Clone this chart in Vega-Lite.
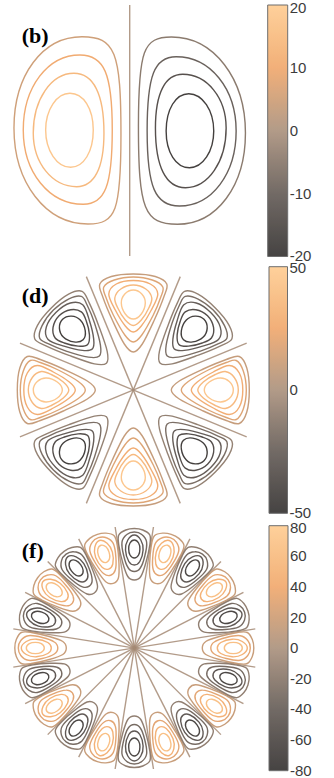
{
  "$schema": "https://vega.github.io/schema/vega-lite/v6.json",
  "width": 334,
  "height": 778,
  "autosize": {"type": "none"},
  "padding": 0,
  "background": "white",
  "config": {
    "view": {"stroke": null},
    "legend": {
      "labelFont": "Liberation Sans",
      "labelFontSize": 15,
      "labelColor": "#3c3c3c",
      "labelOffset": 3,
      "labelOverlap": false,
      "gradientStrokeColor": "#555555",
      "gradientStrokeWidth": 1,
      "padding": 0,
      "direction": "vertical"
    }
  },
  "datasets": {
    "bLines": [{"x": 0, "y": -1, "x2": 0, "y2": 1, "value": 0}],
    "bLabel": [{"label": "(b)", "x": -0.861, "y": 0.695}],
    "bLobes": [
      {"lobe": "L", "level": 1, "x": -0.476, "y": 0, "angle": 0, "value": 5},
      {"lobe": "L", "level": 2, "x": -0.476, "y": 0, "angle": 0, "value": 10},
      {"lobe": "L", "level": 3, "x": -0.476, "y": 0, "angle": 0, "value": 14},
      {"lobe": "L", "level": 4, "x": -0.476, "y": 0, "angle": 0, "value": 18},
      {"lobe": "R", "level": 1, "x": 0.476, "y": 0, "angle": 180, "value": -5},
      {"lobe": "R", "level": 2, "x": 0.476, "y": 0, "angle": 180, "value": -10},
      {"lobe": "R", "level": 3, "x": 0.476, "y": 0, "angle": 180, "value": -14},
      {"lobe": "R", "level": 4, "x": 0.476, "y": 0, "angle": 180, "value": -18}
    ],
    "dRays": [
      {"x": 0.9239, "y": 0.3827, "x2": -0.9239, "y2": -0.3827, "value": 0},
      {"x": 0.3827, "y": 0.9239, "x2": -0.3827, "y2": -0.9239, "value": 0},
      {"x": -0.3827, "y": 0.9239, "x2": 0.3827, "y2": -0.9239, "value": 0},
      {"x": -0.9239, "y": 0.3827, "x2": 0.9239, "y2": -0.3827, "value": 0}
    ],
    "dLabel": [{"label": "(d)", "x": -0.9095, "y": 0.7115}],
    "dLobes": [
      {"lobe": 0, "level": 1, "x": 0.6927, "y": 0, "angle": 0, "value": 9},
      {"lobe": 0, "level": 2, "x": 0.6927, "y": 0, "angle": 0, "value": 18},
      {"lobe": 0, "level": 3, "x": 0.6927, "y": 0, "angle": 0, "value": 27},
      {"lobe": 0, "level": 4, "x": 0.6927, "y": 0, "angle": 0, "value": 36},
      {"lobe": 0, "level": 5, "x": 0.6927, "y": 0, "angle": 0, "value": 45},
      {"lobe": 1, "level": 1, "x": 0.4898, "y": 0.4898, "angle": 315, "value": -9},
      {"lobe": 1, "level": 2, "x": 0.4898, "y": 0.4898, "angle": 315, "value": -18},
      {"lobe": 1, "level": 3, "x": 0.4898, "y": 0.4898, "angle": 315, "value": -27},
      {"lobe": 1, "level": 4, "x": 0.4898, "y": 0.4898, "angle": 315, "value": -36},
      {"lobe": 1, "level": 5, "x": 0.4898, "y": 0.4898, "angle": 315, "value": -45},
      {"lobe": 2, "level": 1, "x": 0, "y": 0.6927, "angle": 270, "value": 9},
      {"lobe": 2, "level": 2, "x": 0, "y": 0.6927, "angle": 270, "value": 18},
      {"lobe": 2, "level": 3, "x": 0, "y": 0.6927, "angle": 270, "value": 27},
      {"lobe": 2, "level": 4, "x": 0, "y": 0.6927, "angle": 270, "value": 36},
      {"lobe": 2, "level": 5, "x": 0, "y": 0.6927, "angle": 270, "value": 45},
      {"lobe": 3, "level": 1, "x": -0.4898, "y": 0.4898, "angle": 225, "value": -9},
      {"lobe": 3, "level": 2, "x": -0.4898, "y": 0.4898, "angle": 225, "value": -18},
      {"lobe": 3, "level": 3, "x": -0.4898, "y": 0.4898, "angle": 225, "value": -27},
      {"lobe": 3, "level": 4, "x": -0.4898, "y": 0.4898, "angle": 225, "value": -36},
      {"lobe": 3, "level": 5, "x": -0.4898, "y": 0.4898, "angle": 225, "value": -45},
      {"lobe": 4, "level": 1, "x": -0.6927, "y": 0, "angle": 180, "value": 9},
      {"lobe": 4, "level": 2, "x": -0.6927, "y": 0, "angle": 180, "value": 18},
      {"lobe": 4, "level": 3, "x": -0.6927, "y": 0, "angle": 180, "value": 27},
      {"lobe": 4, "level": 4, "x": -0.6927, "y": 0, "angle": 180, "value": 36},
      {"lobe": 4, "level": 5, "x": -0.6927, "y": 0, "angle": 180, "value": 45},
      {"lobe": 5, "level": 1, "x": -0.4898, "y": -0.4898, "angle": 135, "value": -9},
      {"lobe": 5, "level": 2, "x": -0.4898, "y": -0.4898, "angle": 135, "value": -18},
      {"lobe": 5, "level": 3, "x": -0.4898, "y": -0.4898, "angle": 135, "value": -27},
      {"lobe": 5, "level": 4, "x": -0.4898, "y": -0.4898, "angle": 135, "value": -36},
      {"lobe": 5, "level": 5, "x": -0.4898, "y": -0.4898, "angle": 135, "value": -45},
      {"lobe": 6, "level": 1, "x": 0, "y": -0.6927, "angle": 90, "value": 9},
      {"lobe": 6, "level": 2, "x": 0, "y": -0.6927, "angle": 90, "value": 18},
      {"lobe": 6, "level": 3, "x": 0, "y": -0.6927, "angle": 90, "value": 27},
      {"lobe": 6, "level": 4, "x": 0, "y": -0.6927, "angle": 90, "value": 36},
      {"lobe": 6, "level": 5, "x": 0, "y": -0.6927, "angle": 90, "value": 45},
      {"lobe": 7, "level": 1, "x": 0.4898, "y": -0.4898, "angle": 45, "value": -9},
      {"lobe": 7, "level": 2, "x": 0.4898, "y": -0.4898, "angle": 45, "value": -18},
      {"lobe": 7, "level": 3, "x": 0.4898, "y": -0.4898, "angle": 45, "value": -27},
      {"lobe": 7, "level": 4, "x": 0.4898, "y": -0.4898, "angle": 45, "value": -36},
      {"lobe": 7, "level": 5, "x": 0.4898, "y": -0.4898, "angle": 45, "value": -45}
    ],
    "fRays": [
      {"x": 0.9877, "y": 0.1564, "x2": -0.9877, "y2": -0.1564, "value": 0},
      {"x": 0.891, "y": 0.454, "x2": -0.891, "y2": -0.454, "value": 0},
      {"x": 0.7071, "y": 0.7071, "x2": -0.7071, "y2": -0.7071, "value": 0},
      {"x": 0.454, "y": 0.891, "x2": -0.454, "y2": -0.891, "value": 0},
      {"x": 0.1564, "y": 0.9877, "x2": -0.1564, "y2": -0.9877, "value": 0},
      {"x": -0.1564, "y": 0.9877, "x2": 0.1564, "y2": -0.9877, "value": 0},
      {"x": -0.454, "y": 0.891, "x2": 0.454, "y2": -0.891, "value": 0},
      {"x": -0.7071, "y": 0.7071, "x2": 0.7071, "y2": -0.7071, "value": 0},
      {"x": -0.891, "y": 0.454, "x2": 0.891, "y2": -0.454, "value": 0},
      {"x": -0.9877, "y": 0.1564, "x2": 0.9877, "y2": -0.1564, "value": 0}
    ],
    "fLabel": [{"label": "(f)", "x": -0.919, "y": 0.732}],
    "fLobes": [
      {"lobe": 0, "level": 1, "x": 0.7755, "y": 0, "angle": 0, "value": 16},
      {"lobe": 0, "level": 2, "x": 0.7755, "y": 0, "angle": 0, "value": 32},
      {"lobe": 0, "level": 3, "x": 0.7755, "y": 0, "angle": 0, "value": 48},
      {"lobe": 0, "level": 4, "x": 0.7755, "y": 0, "angle": 0, "value": 64},
      {"lobe": 1, "level": 1, "x": 0.7376, "y": 0.2396, "angle": 342, "value": -16},
      {"lobe": 1, "level": 2, "x": 0.7376, "y": 0.2396, "angle": 342, "value": -32},
      {"lobe": 1, "level": 3, "x": 0.7376, "y": 0.2396, "angle": 342, "value": -48},
      {"lobe": 1, "level": 4, "x": 0.7376, "y": 0.2396, "angle": 342, "value": -64},
      {"lobe": 2, "level": 1, "x": 0.6274, "y": 0.4558, "angle": 324, "value": 16},
      {"lobe": 2, "level": 2, "x": 0.6274, "y": 0.4558, "angle": 324, "value": 32},
      {"lobe": 2, "level": 3, "x": 0.6274, "y": 0.4558, "angle": 324, "value": 48},
      {"lobe": 2, "level": 4, "x": 0.6274, "y": 0.4558, "angle": 324, "value": 64},
      {"lobe": 3, "level": 1, "x": 0.4558, "y": 0.6274, "angle": 306, "value": -16},
      {"lobe": 3, "level": 2, "x": 0.4558, "y": 0.6274, "angle": 306, "value": -32},
      {"lobe": 3, "level": 3, "x": 0.4558, "y": 0.6274, "angle": 306, "value": -48},
      {"lobe": 3, "level": 4, "x": 0.4558, "y": 0.6274, "angle": 306, "value": -64},
      {"lobe": 4, "level": 1, "x": 0.2396, "y": 0.7376, "angle": 288, "value": 16},
      {"lobe": 4, "level": 2, "x": 0.2396, "y": 0.7376, "angle": 288, "value": 32},
      {"lobe": 4, "level": 3, "x": 0.2396, "y": 0.7376, "angle": 288, "value": 48},
      {"lobe": 4, "level": 4, "x": 0.2396, "y": 0.7376, "angle": 288, "value": 64},
      {"lobe": 5, "level": 1, "x": 0, "y": 0.7755, "angle": 270, "value": -16},
      {"lobe": 5, "level": 2, "x": 0, "y": 0.7755, "angle": 270, "value": -32},
      {"lobe": 5, "level": 3, "x": 0, "y": 0.7755, "angle": 270, "value": -48},
      {"lobe": 5, "level": 4, "x": 0, "y": 0.7755, "angle": 270, "value": -64},
      {"lobe": 6, "level": 1, "x": -0.2396, "y": 0.7376, "angle": 252, "value": 16},
      {"lobe": 6, "level": 2, "x": -0.2396, "y": 0.7376, "angle": 252, "value": 32},
      {"lobe": 6, "level": 3, "x": -0.2396, "y": 0.7376, "angle": 252, "value": 48},
      {"lobe": 6, "level": 4, "x": -0.2396, "y": 0.7376, "angle": 252, "value": 64},
      {"lobe": 7, "level": 1, "x": -0.4558, "y": 0.6274, "angle": 234, "value": -16},
      {"lobe": 7, "level": 2, "x": -0.4558, "y": 0.6274, "angle": 234, "value": -32},
      {"lobe": 7, "level": 3, "x": -0.4558, "y": 0.6274, "angle": 234, "value": -48},
      {"lobe": 7, "level": 4, "x": -0.4558, "y": 0.6274, "angle": 234, "value": -64},
      {"lobe": 8, "level": 1, "x": -0.6274, "y": 0.4558, "angle": 216, "value": 16},
      {"lobe": 8, "level": 2, "x": -0.6274, "y": 0.4558, "angle": 216, "value": 32},
      {"lobe": 8, "level": 3, "x": -0.6274, "y": 0.4558, "angle": 216, "value": 48},
      {"lobe": 8, "level": 4, "x": -0.6274, "y": 0.4558, "angle": 216, "value": 64},
      {"lobe": 9, "level": 1, "x": -0.7376, "y": 0.2396, "angle": 198, "value": -16},
      {"lobe": 9, "level": 2, "x": -0.7376, "y": 0.2396, "angle": 198, "value": -32},
      {"lobe": 9, "level": 3, "x": -0.7376, "y": 0.2396, "angle": 198, "value": -48},
      {"lobe": 9, "level": 4, "x": -0.7376, "y": 0.2396, "angle": 198, "value": -64},
      {"lobe": 10, "level": 1, "x": -0.7755, "y": 0, "angle": 180, "value": 16},
      {"lobe": 10, "level": 2, "x": -0.7755, "y": 0, "angle": 180, "value": 32},
      {"lobe": 10, "level": 3, "x": -0.7755, "y": 0, "angle": 180, "value": 48},
      {"lobe": 10, "level": 4, "x": -0.7755, "y": 0, "angle": 180, "value": 64},
      {"lobe": 11, "level": 1, "x": -0.7376, "y": -0.2396, "angle": 162, "value": -16},
      {"lobe": 11, "level": 2, "x": -0.7376, "y": -0.2396, "angle": 162, "value": -32},
      {"lobe": 11, "level": 3, "x": -0.7376, "y": -0.2396, "angle": 162, "value": -48},
      {"lobe": 11, "level": 4, "x": -0.7376, "y": -0.2396, "angle": 162, "value": -64},
      {"lobe": 12, "level": 1, "x": -0.6274, "y": -0.4558, "angle": 144, "value": 16},
      {"lobe": 12, "level": 2, "x": -0.6274, "y": -0.4558, "angle": 144, "value": 32},
      {"lobe": 12, "level": 3, "x": -0.6274, "y": -0.4558, "angle": 144, "value": 48},
      {"lobe": 12, "level": 4, "x": -0.6274, "y": -0.4558, "angle": 144, "value": 64},
      {"lobe": 13, "level": 1, "x": -0.4558, "y": -0.6274, "angle": 126, "value": -16},
      {"lobe": 13, "level": 2, "x": -0.4558, "y": -0.6274, "angle": 126, "value": -32},
      {"lobe": 13, "level": 3, "x": -0.4558, "y": -0.6274, "angle": 126, "value": -48},
      {"lobe": 13, "level": 4, "x": -0.4558, "y": -0.6274, "angle": 126, "value": -64},
      {"lobe": 14, "level": 1, "x": -0.2396, "y": -0.7376, "angle": 108, "value": 16},
      {"lobe": 14, "level": 2, "x": -0.2396, "y": -0.7376, "angle": 108, "value": 32},
      {"lobe": 14, "level": 3, "x": -0.2396, "y": -0.7376, "angle": 108, "value": 48},
      {"lobe": 14, "level": 4, "x": -0.2396, "y": -0.7376, "angle": 108, "value": 64},
      {"lobe": 15, "level": 1, "x": 0, "y": -0.7755, "angle": 90, "value": -16},
      {"lobe": 15, "level": 2, "x": 0, "y": -0.7755, "angle": 90, "value": -32},
      {"lobe": 15, "level": 3, "x": 0, "y": -0.7755, "angle": 90, "value": -48},
      {"lobe": 15, "level": 4, "x": 0, "y": -0.7755, "angle": 90, "value": -64},
      {"lobe": 16, "level": 1, "x": 0.2396, "y": -0.7376, "angle": 72, "value": 16},
      {"lobe": 16, "level": 2, "x": 0.2396, "y": -0.7376, "angle": 72, "value": 32},
      {"lobe": 16, "level": 3, "x": 0.2396, "y": -0.7376, "angle": 72, "value": 48},
      {"lobe": 16, "level": 4, "x": 0.2396, "y": -0.7376, "angle": 72, "value": 64},
      {"lobe": 17, "level": 1, "x": 0.4558, "y": -0.6274, "angle": 54, "value": -16},
      {"lobe": 17, "level": 2, "x": 0.4558, "y": -0.6274, "angle": 54, "value": -32},
      {"lobe": 17, "level": 3, "x": 0.4558, "y": -0.6274, "angle": 54, "value": -48},
      {"lobe": 17, "level": 4, "x": 0.4558, "y": -0.6274, "angle": 54, "value": -64},
      {"lobe": 18, "level": 1, "x": 0.6274, "y": -0.4558, "angle": 36, "value": 16},
      {"lobe": 18, "level": 2, "x": 0.6274, "y": -0.4558, "angle": 36, "value": 32},
      {"lobe": 18, "level": 3, "x": 0.6274, "y": -0.4558, "angle": 36, "value": 48},
      {"lobe": 18, "level": 4, "x": 0.6274, "y": -0.4558, "angle": 36, "value": 64},
      {"lobe": 19, "level": 1, "x": 0.7376, "y": -0.2396, "angle": 18, "value": -16},
      {"lobe": 19, "level": 2, "x": 0.7376, "y": -0.2396, "angle": 18, "value": -32},
      {"lobe": 19, "level": 3, "x": 0.7376, "y": -0.2396, "angle": 18, "value": -48},
      {"lobe": 19, "level": 4, "x": 0.7376, "y": -0.2396, "angle": 18, "value": -64}
    ]
  },
  "layer": [
    {
      "encoding": {
        "x": {"field": "x", "type": "quantitative", "axis": null, "scale": {"domain": [-1.03347, 1.62789], "nice": false, "zero": false}},
        "y": {"field": "y", "type": "quantitative", "axis": null, "scale": {"domain": [-5.15936, 1.03984], "nice": false, "zero": false}},
        "color": {
          "field": "value", "type": "quantitative",
          "scale": {"domain": [-20, -10, 0, 10, 20], "range": ["#262322", "#5a514b", "#a58a74", "#f0a262", "#ffc98a"]},
          "legend": {"orient": "none", "legendX": 267.7, "legendY": 5, "gradientLength": 251.5, "gradientThickness": 20, "values": [-19.99, -10, 0, 10, 19.5], "title": null, "labelExpr": "(datum.value < 0 ? '-' : '') + round(abs(datum.value) / 10) * 10"}
        }
      },
      "layer": [
        {"data": {"name": "bLines"}, "mark": {"type": "rule", "strokeWidth": 1.4, "opacity": 0.85}, "encoding": {"x2": {"field": "x2"}, "y2": {"field": "y2"}}},
        {"data": {"name": "bLobes"}, "transform": [{"filter": "datum.level == 1"}], "mark": {"type": "point", "shape": "M12 -93.8C45.2 -93.8 51 -79.1 51 4.5C51 80.2 46.1 93.5 18 93.5C-24.2 93.5 -56 52.2 -56 -2.5C-56 -55.5 -27.4 -93.8 12 -93.8Z", "size": 4, "filled": false, "strokeWidth": 1.4, "opacity": 0.9}, "encoding": {"angle": {"field": "angle", "type": "quantitative", "scale": null}}},
        {"data": {"name": "bLobes"}, "transform": [{"filter": "datum.level == 2"}], "mark": {"type": "point", "shape": "M10 -75.5C34.2 -75.5 42.3 -56.8 42.3 -0.5C42.3 55.2 35.1 73.8 13.3 73.8C-20.9 73.8 -46.7 41.9 -46.7 -0.5C-46.7 -43.3 -22.3 -75.5 10 -75.5Z", "size": 4, "filled": false, "strokeWidth": 1.4, "opacity": 0.9}, "encoding": {"angle": {"field": "angle", "type": "quantitative", "scale": null}}},
        {"data": {"name": "bLobes"}, "transform": [{"filter": "datum.level == 3"}], "mark": {"type": "point", "shape": "M4 -57.2C23.5 -57.2 34 -36.3 34 2.5C34 37.4 24.4 56.2 6.7 56.2C-17.6 56.2 -36.7 32.6 -36.7 2.5C-36.7 -30.9 -18.8 -57.2 4 -57.2Z", "size": 4, "filled": false, "strokeWidth": 1.4, "opacity": 0.9}, "encoding": {"angle": {"field": "angle", "type": "quantitative", "scale": null}}},
        {"data": {"name": "bLobes"}, "transform": [{"filter": "datum.level == 4"}], "mark": {"type": "point", "shape": "M0 -37.2C13.5 -37.2 23.3 -21.8 23.3 -0.5C23.3 21.1 13.8 36.8 0.7 36.8C-13.1 36.8 -24.3 20 -24.3 -0.5C-24.3 -20.7 -13.4 -37.2 0 -37.2Z", "size": 4, "filled": false, "strokeWidth": 1.4, "opacity": 0.9}, "encoding": {"angle": {"field": "angle", "type": "quantitative", "scale": null}}},
        {"data": {"name": "bLabel"}, "mark": {"type": "text", "font": "Liberation Serif", "fontWeight": "bold", "fontSize": 22, "align": "left", "baseline": "alphabetic"}, "encoding": {"text": {"field": "label"}, "color": {"value": "black"}}}
      ]
    },
    {
      "encoding": {
        "x": {"field": "x", "type": "quantitative", "axis": null, "scale": {"domain": [-1.08639, 1.6357], "nice": false, "zero": false}},
        "y": {"field": "y", "type": "quantitative", "axis": null, "scale": {"domain": [-3.16218, 3.17848], "nice": false, "zero": false}},
        "color": {
          "field": "value", "type": "quantitative",
          "scale": {"domain": [-50, -25, 0, 25, 50], "range": ["#262322", "#5a514b", "#a58a74", "#f0a262", "#ffc98a"]},
          "legend": {"orient": "none", "legendX": 269, "legendY": 266.7, "gradientLength": 246.6, "gradientThickness": 18.5, "values": [-49.99, 0, 49.4], "title": null, "labelExpr": "(datum.value < 0 ? '-' : '') + round(abs(datum.value) / 10) * 10"}
        }
      },
      "layer": [
        {"data": {"name": "dRays"}, "mark": {"type": "rule", "strokeWidth": 1.4, "opacity": 0.85}, "encoding": {"x2": {"field": "x2"}, "y2": {"field": "y2"}}},
        {"data": {"name": "dLobes"}, "transform": [{"filter": "datum.level == 1"}], "mark": {"type": "point", "shape": "M-47 0C-47 -3 -44.3 -5.5 -39 -9C-33.7 -12.5 -22.8 -17.4 -15 -21C-7.2 -24.6 2 -28.4 8 -30.5C14 -32.6 17.6 -34.9 21 -33.5C24.4 -32.1 26.8 -27.6 28.5 -22C30.2 -16.4 31 -7.3 31 0C31 7.3 30.2 16.4 28.5 22C26.8 27.6 24.4 32.1 21 33.5C17.6 34.9 14 32.6 8 30.5C2 28.4 -7.2 24.6 -15 21C-22.8 17.4 -33.7 12.5 -39 9C-44.3 5.5 -47 3 -47 0Z", "size": 4, "filled": false, "strokeWidth": 1.4, "opacity": 0.9}, "encoding": {"angle": {"field": "angle", "type": "quantitative", "scale": null}}},
        {"data": {"name": "dLobes"}, "transform": [{"filter": "datum.level == 2"}], "mark": {"type": "point", "shape": "M-37 0C-37 -2.8 -34.5 -5.2 -30 -8.5C-25.5 -11.8 -16.3 -16.8 -10 -20C-3.7 -23.2 3.3 -25.9 8 -27.5C12.7 -29.1 15.2 -30.9 18 -29.5C20.8 -28.1 23.3 -23.9 25 -19C26.7 -14.1 28 -6.3 28 0C28 6.3 26.7 14.1 25 19C23.3 23.9 20.8 28.1 18 29.5C15.2 30.9 12.7 29.1 8 27.5C3.3 25.9 -3.7 23.2 -10 20C-16.3 16.8 -25.5 11.8 -30 8.5C-34.5 5.2 -37 2.8 -37 0Z", "size": 4, "filled": false, "strokeWidth": 1.4, "opacity": 0.9}, "encoding": {"angle": {"field": "angle", "type": "quantitative", "scale": null}}},
        {"data": {"name": "dLobes"}, "transform": [{"filter": "datum.level == 3"}], "mark": {"type": "point", "shape": "M-27 0C-27 -2.7 -24.7 -5 -21 -8C-17.3 -11 -10.3 -15.3 -5 -18C0.3 -20.8 6.7 -24.7 11 -24.5C15.3 -24.3 18.8 -21.1 21 -17C23.3 -12.9 24.5 -5.7 24.5 0C24.5 5.7 23.3 12.9 21 17C18.8 21.1 15.3 24.3 11 24.5C6.7 24.7 0.3 20.8 -5 18C-10.3 15.3 -17.3 11 -21 8C-24.7 5 -27 2.7 -27 0Z", "size": 4, "filled": false, "strokeWidth": 1.4, "opacity": 0.9}, "encoding": {"angle": {"field": "angle", "type": "quantitative", "scale": null}}},
        {"data": {"name": "dLobes"}, "transform": [{"filter": "datum.level == 4"}], "mark": {"type": "point", "shape": "M-20.5 0C-20.5 -2.7 -17.9 -5.4 -15 -8C-12.1 -10.6 -6.7 -13.8 -3 -15.5C0.7 -17.3 3.8 -19 7 -18.5C10.2 -18 13.8 -15.6 16 -12.5C18.2 -9.4 20 -4.2 20 0C20 4.2 18.2 9.4 16 12.5C13.8 15.6 10.2 18 7 18.5C3.8 19 0.7 17.3 -3 15.5C-6.7 13.8 -12.1 10.6 -15 8C-17.9 5.4 -20.5 2.7 -20.5 0Z", "size": 4, "filled": false, "strokeWidth": 1.4, "opacity": 0.9}, "encoding": {"angle": {"field": "angle", "type": "quantitative", "scale": null}}},
        {"data": {"name": "dLobes"}, "transform": [{"filter": "datum.level == 5"}], "mark": {"type": "point", "shape": "M-14 0C-14 -2.7 -11.7 -6 -9 -8C-6.3 -10 -1.3 -11.9 2 -12C5.3 -12.1 8.8 -10.5 11 -8.5C13.2 -6.5 15 -2.8 15 0C15 2.8 13.2 6.5 11 8.5C8.8 10.5 5.3 12.1 2 12C-1.3 11.9 -6.3 10 -9 8C-11.7 6 -14 2.7 -14 0Z", "size": 4, "filled": false, "strokeWidth": 1.4, "opacity": 0.9}, "encoding": {"angle": {"field": "angle", "type": "quantitative", "scale": null}}},
        {"data": {"name": "dLabel"}, "mark": {"type": "text", "font": "Liberation Serif", "fontWeight": "bold", "fontSize": 22, "align": "left", "baseline": "alphabetic"}, "encoding": {"text": {"field": "label"}, "color": {"value": "black"}}}
      ]
    },
    {
      "encoding": {
        "x": {"field": "x", "type": "quantitative", "axis": null, "scale": {"domain": [-1.09633, 1.6302], "nice": false, "zero": false}},
        "y": {"field": "y", "type": "quantitative", "axis": null, "scale": {"domain": [-1.06122, 5.2898], "nice": false, "zero": false}},
        "color": {
          "field": "value", "type": "quantitative",
          "scale": {"domain": [-80, -40, 0, 40, 80], "range": ["#262322", "#5a514b", "#a58a74", "#f0a262", "#ffc98a"]},
          "legend": {"orient": "none", "legendX": 269, "legendY": 525.7, "gradientLength": 245, "gradientThickness": 19, "values": [-79.99, -60, -40, -20, 0, 20, 40, 60, 78.5], "title": null, "labelExpr": "(datum.value < 0 ? '-' : '') + round(abs(datum.value) / 10) * 10"}
        }
      },
      "layer": [
        {"data": {"name": "fRays"}, "mark": {"type": "rule", "strokeWidth": 1.4, "opacity": 0.85}, "encoding": {"x2": {"field": "x2"}, "y2": {"field": "y2"}}},
        {"data": {"name": "fLobes"}, "transform": [{"filter": "datum.level == 1"}], "mark": {"type": "point", "shape": "M-27 0C-27 -2.2 -26.3 -4.6 -23.5 -6.5C-20.7 -8.4 -15.3 -10 -10 -11.5C-4.8 -13 3.3 -14.8 8 -15.5C12.7 -16.2 15.5 -16.7 18 -15.5C20.5 -14.3 21.9 -11.1 23 -8.5C24.1 -5.9 24.5 -2.8 24.5 0C24.5 2.8 24.1 5.9 23 8.5C21.9 11.1 20.5 14.3 18 15.5C15.5 16.7 12.7 16.2 8 15.5C3.3 14.8 -4.8 13 -10 11.5C-15.3 10 -20.7 8.4 -23.5 6.5C-26.3 4.6 -27 2.2 -27 0Z", "size": 4, "filled": false, "strokeWidth": 1.4, "opacity": 0.9}, "encoding": {"angle": {"field": "angle", "type": "quantitative", "scale": null}}},
        {"data": {"name": "fLobes"}, "transform": [{"filter": "datum.level == 2"}], "mark": {"type": "point", "shape": "M-18.5 0C-18.5 -2 -17.6 -4.3 -15 -6C-12.4 -7.8 -7.3 -9.5 -3 -10.5C1.3 -11.6 7.4 -12.8 11 -12.3C14.6 -11.8 16.8 -9.6 18.5 -7.5C20.2 -5.5 21 -2.5 21 0C21 2.5 20.2 5.5 18.5 7.5C16.8 9.6 14.6 11.8 11 12.3C7.4 12.8 1.3 11.6 -3 10.5C-7.3 9.5 -12.4 7.8 -15 6C-17.6 4.3 -18.5 2 -18.5 0Z", "size": 4, "filled": false, "strokeWidth": 1.4, "opacity": 0.9}, "encoding": {"angle": {"field": "angle", "type": "quantitative", "scale": null}}},
        {"data": {"name": "fLobes"}, "transform": [{"filter": "datum.level == 3"}], "mark": {"type": "point", "shape": "M-12 0C-12 -1.8 -11 -4 -8.5 -5.5C-6 -7 -0.6 -8.6 3 -8.8C6.6 -9 10.5 -8 13 -6.5C15.5 -5 18 -2.2 18 0C18 2.2 15.5 5 13 6.5C10.5 8 6.6 9 3 8.8C-0.6 8.6 -6 7 -8.5 5.5C-11 4 -12 1.8 -12 0Z", "size": 4, "filled": false, "strokeWidth": 1.4, "opacity": 0.9}, "encoding": {"angle": {"field": "angle", "type": "quantitative", "scale": null}}},
        {"data": {"name": "fLobes"}, "transform": [{"filter": "datum.level == 4"}], "mark": {"type": "point", "shape": "M-5 0C-5 -1.4 -3.5 -3.4 -2 -4.3C-0.5 -5.2 2 -5.6 4 -5.6C6 -5.6 8.5 -5.2 10 -4.3C11.5 -3.4 13 -1.4 13 0C13 1.4 11.5 3.4 10 4.3C8.5 5.2 6 5.6 4 5.6C2 5.6 -0.5 5.2 -2 4.3C-3.5 3.4 -5 1.4 -5 0Z", "size": 4, "filled": false, "strokeWidth": 1.4, "opacity": 0.9}, "encoding": {"angle": {"field": "angle", "type": "quantitative", "scale": null}}},
        {"data": {"name": "fLabel"}, "mark": {"type": "text", "font": "Liberation Serif", "fontWeight": "bold", "fontSize": 22, "align": "left", "baseline": "alphabetic"}, "encoding": {"text": {"field": "label"}, "color": {"value": "black"}}}
      ]
    }
  ],
  "resolve": {"scale": {"x": "independent", "y": "independent", "color": "independent"}, "legend": {"color": "independent"}}
}
